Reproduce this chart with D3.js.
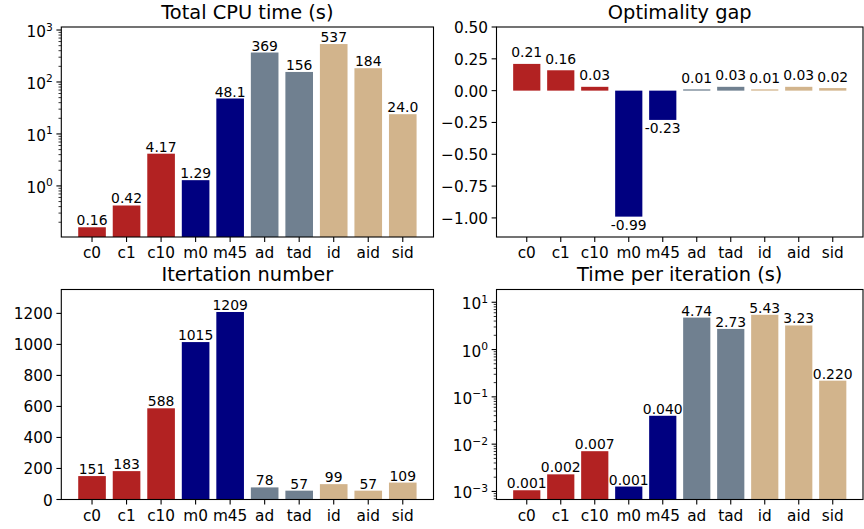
<!DOCTYPE html>
<html>
<head>
<meta charset="utf-8">
<script src="https://cdn.jsdelivr.net/npm/d3@7"></script>
<style>
  body { margin: 0; background: #fff; }
  text { font-family: "DejaVu Sans", sans-serif; fill: #000; }
</style>
</head>
<body>
<svg id="chart"></svg>
<script>
// data
const methods = ['c0', 'c1', 'c10', 'm0', 'm45', 'ad', 'tad', 'id', 'aid', 'sid'];
const barColors = ['#b22222', '#b22222', '#b22222', '#000080', '#000080',
                   '#708090', '#708090', '#d2b48c', '#d2b48c', '#d2b48c'];
const cpuTime = [0.16, 0.42, 4.17, 1.29, 48.1, 369, 156, 537, 184, 24.0];
const optGap = [0.21, 0.16, 0.03, -0.99, -0.23, 0.01, 0.03, 0.01, 0.03, 0.02];
const iterations = [151, 183, 588, 1015, 1209, 78, 57, 99, 57, 109];
const timePerIter = [0.00106, 0.0023, 0.0071, 0.00127, 0.0398, 4.74, 2.73, 5.43, 3.23, 0.220];
const gapTicks = [0.5, 0.25, 0, -0.25, -0.5, -0.75, -1];
const iterTicks = [0, 200, 400, 600, 800, 1000, 1200];

const width = 864;
const height = 529;

const svg = d3.select('#chart')
  .attr('width', width)
  .attr('height', height);

const f2 = d3.format('.2f');
const f3 = d3.format('.3f');
const r3 = d3.format('.3r');

const panels = [
  { title: 'Total CPU time (s)', values: cpuTime, log: true, domain: [0.104, 1143],
    left: 61.3, right: 433.5, top: 27, bottom: 237, lift: 2,
    label: v => v < 1 ? f2(v) : r3(v) },
  { title: 'Optimality gap', values: optGap, log: false, domain: [-1.15, 0.5], ticks: gapTicks,
    tickFmt: d3.format('.2f'),
    left: 496.5, right: 863, top: 27, bottom: 237, lift: 6.5,
    label: v => v.toFixed(2) },
  { title: 'Itertation number', values: iterations, log: false, domain: [0, 1354], ticks: iterTicks,
    tickFmt: d3.format('d'),
    left: 61.3, right: 433.5, top: 289.5, bottom: 499.5, lift: 2,
    label: v => String(v) },
  { title: 'Time per iteration (s)', values: timePerIter, log: true, domain: [0.000676, 18.6],
    left: 496.5, right: 863, top: 289.5, bottom: 499.5, lift: 2,
    label: v => v < 1 ? f3(v) : r3(v) }
];

panels.forEach(drawPanel);

function drawPanel(p) {
  const g = svg.append('g');

  const x = d3.scaleLinear()
    .domain([-0.89, 9.89])
    .range([p.left, p.right]);

  const y = (p.log ? d3.scaleLog() : d3.scaleLinear())
    .domain(p.domain)
    .range([p.bottom, p.top]);

  const bw = x(0.8) - x(0);
  const base = p.log ? p.bottom : y(0);

  // bars
  g.selectAll('.bar')
    .data(p.values)
    .enter().append('rect')
      .attr('class', 'bar')
      .attr('x', (d, i) => x(i) - bw / 2)
      .attr('width', bw)
      .attr('y', d => Math.min(y(d), base))
      .attr('height', d => Math.abs(y(d) - base))
      .attr('fill', (d, i) => barColors[i]);

  // value labels
  g.selectAll('.val')
    .data(p.values)
    .enter().append('text')
      .attr('class', 'val')
      .attr('x', (d, i) => x(i))
      .attr('y', d => d >= 0 ? y(d) - p.lift : y(d) + 13.5)
      .attr('text-anchor', 'middle')
      .style('font-size', '13.9px')
      .text(d => p.label(d));

  // frame
  g.append('rect')
    .attr('x', p.left)
    .attr('y', p.top)
    .attr('width', p.right - p.left)
    .attr('height', p.bottom - p.top)
    .attr('fill', 'none')
    .attr('stroke', '#000')
    .attr('stroke-width', 1.1);

  // x ticks
  methods.forEach((m, i) => {
    g.append('line')
      .attr('x1', x(i)).attr('x2', x(i))
      .attr('y1', p.bottom).attr('y2', p.bottom + 4.9)
      .attr('stroke', '#000').attr('stroke-width', 1.1);
    g.append('text')
      .attr('x', x(i))
      .attr('y', p.bottom + 21)
      .attr('text-anchor', 'middle')
      .style('font-size', '15.3px')
      .text(m);
  });

  // y ticks
  if (p.log) {
    const lo = Math.floor(Math.log10(p.domain[0]));
    const hi = Math.ceil(Math.log10(p.domain[1]));
    for (let e = lo; e <= hi; e++) {
      for (let k = 1; k < 10; k++) {
        const v = k * Math.pow(10, e);
        if (v < p.domain[0] || v > p.domain[1]) continue;
        const ty = y(v);
        g.append('line')
          .attr('x1', p.left).attr('x2', p.left - (k === 1 ? 4.9 : 2.8))
          .attr('y1', ty).attr('y2', ty)
          .attr('stroke', '#000').attr('stroke-width', k === 1 ? 1.1 : 0.8);
        if (k === 1) {
          const t = g.append('text')
            .attr('x', p.left - 8.5)
            .attr('y', ty + 7)
            .attr('text-anchor', 'end')
            .style('font-size', '15.3px');
          t.append('tspan').text('10');
          t.append('tspan')
            .attr('dy', -6.5)
            .style('font-size', '10.7px')
            .text(String(e).replace('-', '\u2212'));
        }
      }
    }
  } else {
    p.ticks.forEach(v => {
      const ty = y(v);
      g.append('line')
        .attr('x1', p.left).attr('x2', p.left - 4.9)
        .attr('y1', ty).attr('y2', ty)
        .attr('stroke', '#000').attr('stroke-width', 1.1);
      g.append('text')
        .attr('x', p.left - 8.5)
        .attr('y', ty + 6)
        .attr('text-anchor', 'end')
        .style('font-size', '15.3px')
        .text(p.tickFmt(v));
    });
  }

  // title
  g.append('text')
    .attr('x', (p.left + p.right) / 2)
    .attr('y', p.top - 8.3)
    .attr('text-anchor', 'middle')
    .style('font-size', '19.4px')
    .text(p.title);
}
</script>
</body>
</html>
